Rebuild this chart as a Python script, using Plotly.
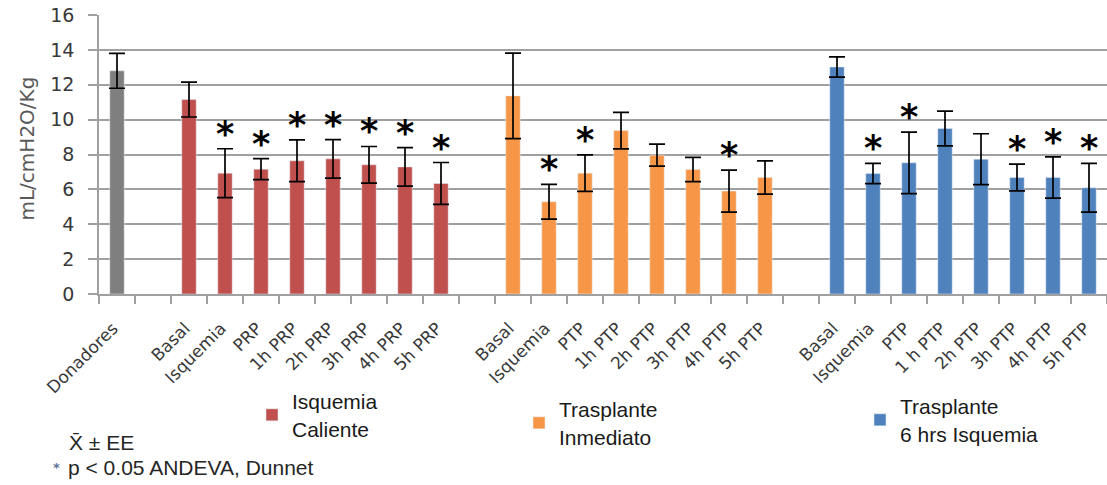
import plotly.graph_objects as go

# ---------------- data ----------------
donor_label = "Donadores"
donor_value = [12.8]
donor_err = [1.0]

red_labels = ["Basal", "Isquemia", "PRP", "1h PRP", "2h PRP", "3h PRP", "4h PRP", "5h PRP"]
red_values = [11.15, 6.93, 7.16, 7.64, 7.75, 7.41, 7.29, 6.34]
red_err = [1.0, 1.4, 0.6, 1.2, 1.1, 1.05, 1.1, 1.2]
red_sig = [False, True, True, True, True, True, True, True]

orange_labels = ["Basal", "Isquemia", "PTP", "1h PTP", "2h PTP", "3h PTP", "4h PTP", "5h PTP"]
orange_values = [11.36, 5.29, 6.93, 9.37, 7.96, 7.14, 5.90, 6.68]
orange_err = [2.45, 1.0, 1.05, 1.05, 0.63, 0.7, 1.2, 0.95]
orange_sig = [False, True, True, False, False, False, True, False]

blue_labels = ["Basal", "Isquemia", "PTP", "1 h PTP", "2h PTP", "3h PTP", "4h PTP", "5h PTP"]
blue_values = [13.02, 6.91, 7.52, 9.49, 7.73, 6.68, 6.68, 6.09]
blue_err = [0.58, 0.58, 1.76, 1.0, 1.46, 0.77, 1.18, 1.4]
blue_sig = [False, True, True, False, False, True, True, True]

series_names = ["Isquemia<br>Caliente", "Trasplante<br>Inmediato", "Trasplante<br>6 hrs Isquemia"]
y_ticks = [0, 2, 4, 6, 8, 10, 12, 14, 16]
y_title = "mL/cmH2O/Kg"

# ---------------- styles / layout ----------------
W, H = 1107, 485
ML, MR, MT, MB = 99, 0, 15, 191
PW, PH = W - ML - MR, H - MT - MB


def px_x(px):  # pixel -> paper x
    return (px - ML) / PW


def px_y(py):  # pixel -> paper y
    return (H - MB - py) / PH


C_GREY = "#7f7f7f"
C_RED = "#c0504d"
C_ORANGE = "#f79646"
C_BLUE = "#4f81bd"
GRID = "#a0a0a0"
TXT = "#383838"


def ids(prefix, labels):
    return [f"{prefix}:{i}" for i in range(len(labels))]


red_ids = ids("R", red_labels)
orange_ids = ids("O", orange_labels)
blue_ids = ids("B", blue_labels)
cat_order = [donor_label, "gap1"] + red_ids + ["gap2"] + orange_ids + ["gap3"] + blue_ids
cat_text = [donor_label, ""] + red_labels + [""] + orange_labels + [""] + blue_labels

BAR_W = 0.4
err_style = dict(type="data", color="black", thickness=1.7, width=8, visible=True)

fig = go.Figure()
fig.add_trace(go.Bar(x=[donor_label], y=donor_value, width=BAR_W, marker_color=C_GREY,
                     error_y=dict(array=donor_err, **err_style), showlegend=False))

groups = [
    (red_ids, red_values, red_err, red_sig, C_RED, series_names[0], "legend"),
    (orange_ids, orange_values, orange_err, orange_sig, C_ORANGE, series_names[1], "legend2"),
    (blue_ids, blue_values, blue_err, blue_sig, C_BLUE, series_names[2], "legend3"),
]
for xs, vals, errs, sig, col, name, lg in groups:
    fig.add_trace(go.Bar(x=xs, y=vals, width=BAR_W, marker_color=col, name=name, legend=lg,
                         error_y=dict(array=errs, **err_style)))
    for x, v, e, s in zip(xs, vals, errs, sig):
        if s:
            fig.add_annotation(x=x, y=v + e, xref="x", yref="y", text="<b>*</b>", showarrow=False,
                               yanchor="bottom", yshift=-7,
                               font=dict(family="DejaVu Sans", size=35, color="black"))

# y-axis title
fig.add_annotation(xref="paper", yref="paper", x=px_x(26), y=px_y(148.5), text=y_title, textangle=-90,
                   showarrow=False, xanchor="center", yanchor="middle",
                   font=dict(family="DejaVu Sans", size=20, color="#595959"))

# footnote
NOTE_FONT = dict(family="Liberation Sans, Arial", size=21, color="#262626")
fig.add_annotation(xref="paper", yref="paper", x=px_x(67), y=px_y(442),
                   text="X\u0304 \u00b1 EE", showarrow=False,
                   xanchor="left", yanchor="middle", font=NOTE_FONT)
fig.add_annotation(xref="paper", yref="paper", x=px_x(66), y=px_y(467),
                   text="p < 0.05 ANDEVA, Dunnet",
                   showarrow=False, xanchor="left", yanchor="middle", font=NOTE_FONT)
fig.add_annotation(xref="paper", yref="paper", x=px_x(56), y=px_y(468), text="<b>*</b>",
                   showarrow=False, xanchor="center", yanchor="middle",
                   font=dict(family="DejaVu Sans", size=13, color="#5a6f96"))

LEG_FONT = dict(family="Liberation Sans, Arial", size=21, color="#1a1a1a")
leg_common = dict(orientation="v", xanchor="left", yanchor="top",
                  bgcolor="rgba(0,0,0,0)", font=LEG_FONT, valign="middle", tracegroupgap=0)

fig.update_layout(
    width=W, height=H,
    margin=dict(l=ML, r=MR, t=MT, b=MB),
    paper_bgcolor="white", plot_bgcolor="white",
    barmode="overlay",
    legend=dict(x=px_x(252), y=px_y(381), **leg_common),
    legend2=dict(x=px_x(519), y=px_y(389), **leg_common),
    legend3=dict(x=px_x(860), y=px_y(386), **leg_common),
    xaxis=dict(
        type="category", categoryorder="array", categoryarray=cat_order,
        tickmode="array", tickvals=cat_order, ticktext=cat_text,
        tickson="boundaries", ticks="outside", ticklen=8, tickcolor=GRID, tickwidth=1.5,
        tickangle=-45, tickfont=dict(family="DejaVu Sans", size=17, color=TXT),
        ticklabelstandoff=16, ticklabelshift=-4,
        showline=True, linecolor=GRID, linewidth=1.5, showgrid=False, automargin=False,
        range=[-0.5, len(cat_order) - 0.5],
    ),
    yaxis=dict(
        range=[0, 16], tickvals=y_ticks, showgrid=True, gridcolor=GRID, gridwidth=1.6,
        ticks="outside", ticklen=9, tickcolor=GRID, tickwidth=1.5,
        showline=True, linecolor=GRID, linewidth=1.5, zeroline=False, automargin=False,
        tickfont=dict(family="DejaVu Sans", size=19, color=TXT),
        ticklabelstandoff=10,
    ),
)

fig.write_html("out.html", config={"displayModeBar": False},
               post_script="document.body.style.margin='0px';")
